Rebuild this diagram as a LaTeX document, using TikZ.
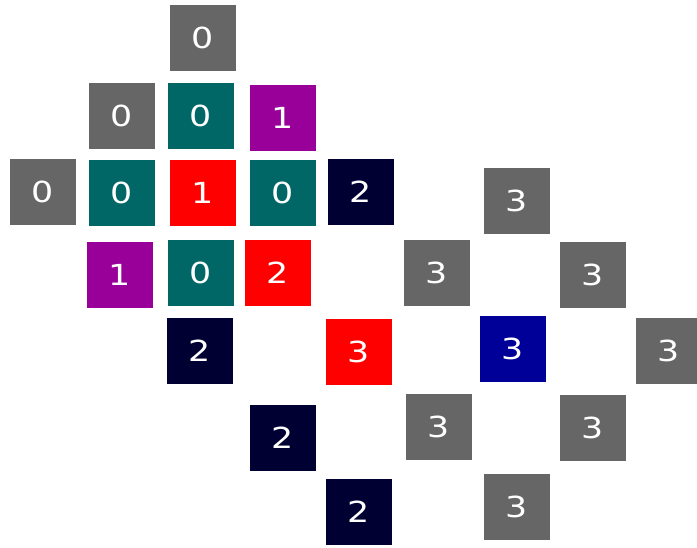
\documentclass[tikz,border=0pt]{standalone}
\usepackage{fontspec}
\newfontfamily\digitfont{DejaVu Sans}
\definecolor{cgray}{HTML}{666666}
\definecolor{cteal}{HTML}{006666}
\definecolor{cred}{HTML}{FF0000}
\definecolor{cpurple}{HTML}{990099}
\definecolor{cnavy}{HTML}{000033}
\definecolor{cblue}{HTML}{000099}
\tikzset{
  cell/.style={rectangle, minimum width=66pt, minimum height=66pt, inner sep=0pt,
    text=white, font=\digitfont\fontsize{29}{29}\selectfont},
  gcell/.style={cell, fill=cgray},
  tcell/.style={cell, fill=cteal},
  rcell/.style={cell, fill=cred},
  pcell/.style={cell, fill=cpurple},
  ncell/.style={cell, fill=cnavy},
  bcell/.style={cell, fill=cblue}
}
\newcommand{\dg}[1]{\scalebox{1.2}[1]{#1}}
\begin{document}
\begin{tikzpicture}[x=1pt,y=-1pt]
\useasboundingbox (0,0) rectangle (697,548);
\clip (0,0) rectangle (697,548);
\node[gcell] (a1) at (203,38) {\dg{0}};
\node[gcell] (b1) at (122,116) {\dg{0}};
\node[tcell] (b2) at (201,116) {\dg{0}};
\node[pcell] (b3) at (283,118) {\dg{1}};
\node[gcell] (c1) at (43,192) {\dg{0}};
\node[tcell] (c2) at (122,193) {\dg{0}};
\node[rcell] (c3) at (203,193) {\dg{1}};
\node[tcell] (c4) at (283,193) {\dg{0}};
\node[ncell] (c5) at (361,192) {\dg{2}};
\node[pcell] (d1) at (120,275) {\dg{1}};
\node[tcell] (d2) at (201,273) {\dg{0}};
\node[rcell] (d3) at (278,273) {\dg{2}};
\node[gcell] (e1) at (517,201) {\dg{3}};
\node[gcell] (e2) at (437,273) {\dg{3}};
\node[gcell] (e3) at (593,275) {\dg{3}};
\node[ncell] (f1) at (200,351) {\dg{2}};
\node[rcell] (f2) at (359,352) {\dg{3}};
\node[bcell] (f3) at (513,349) {\dg{3}};
\node[gcell] (f4) at (669,351) {\dg{3}};
\node[ncell] (g1) at (283,438) {\dg{2}};
\node[gcell] (g2) at (439,427) {\dg{3}};
\node[gcell] (g3) at (593,428) {\dg{3}};
\node[ncell] (h1) at (359,512) {\dg{2}};
\node[gcell] (h2) at (517,507) {\dg{3}};
\end{tikzpicture}
\end{document}
